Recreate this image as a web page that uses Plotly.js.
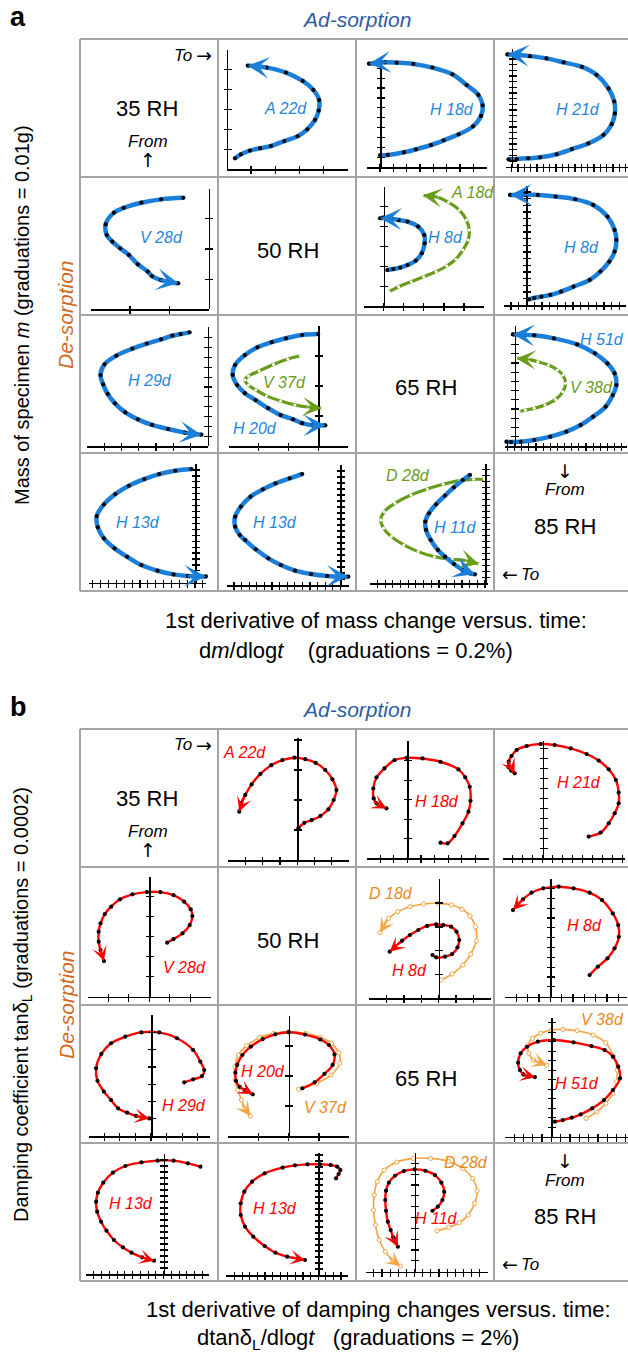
<!DOCTYPE html>
<html>
<head>
<meta charset="utf-8">
<script src="https://cdn.plot.ly/plotly-3.0.1.min.js"></script>
<style>
  html, body { margin: 0; padding: 0; background: #fff; }
  #chart { width: 628px; height: 1356px; }
</style>
</head>
<body>
<div id="chart"></div>
<script>
// ---------------- DATA (values in axis graduations) ----------------
// Panel a : mass (y) versus dm/dlogt (x)
const aA22_x = [0.34,0.58,0.96,1.38,1.83,2.38,2.93,3.33,3.65,3.80,3.82,3.58,3.14,2.45,1.65,0.87];
const aA22_y = [0.55,0.75,0.94,1.06,1.17,1.42,1.66,2.01,2.48,2.95,3.48,3.99,4.44,4.86,5.11,5.21];
const aH18_x = [0,0.58,1.8,2.7,3.83,4.78,5.9,6.98,7.58,7.7,7.38,6.5,5.43,3.93,2.5,1.25,0.38,-0.5,-0.83];
const aH18_y = [1.18,1.22,1.49,1.79,2.23,2.70,3.31,4.12,5.17,6.25,7.30,8.31,9.39,10.07,10.44,10.57,10.61,10.5,10.47];
const aH21_x = [-0.5,0.8,2.6,4.5,7.1,9.5,12.1,14.5,15.8,16.3,16.2,15.3,13.4,11.1,8.2,5.5,2.9,0.8,-0.7];
const aH21_y = [1.3,1.35,1.47,1.65,2.2,3.1,4.1,5.6,7.5,9.4,11.5,13.8,16.2,17.6,18.4,19.1,19.5,19.7,19.8];
const aV28_x = [-0.64,-1.21,-1.71,-2.16,-2.41,-2.62,-2.59,-2.45,-2.25,-2.03,-1.80,-1.55,-1.44,-1.21,-0.95,-0.77];
const aV28_y = [3.69,3.64,3.53,3.36,3.20,2.81,2.46,2.24,2.02,1.80,1.49,1.25,1.10,0.97,0.89,0.86];
const aH8a_x = [0.18,0.48,0.83,1.19,1.60,1.90,2.04,2.02,1.72,1.19,0.75,0.39,0.0,-0.18];
const aH8a_y = [1.81,1.86,1.93,2.06,2.28,2.65,3.15,3.57,3.99,4.24,4.32,4.39,4.44,4.41];
const aA18_x = [0.27,0.75,1.37,1.99,2.61,3.14,3.59,3.94,4.21,4.26,4.12,3.77,3.23,2.70,1.95];
const aA18_y = [0.72,0.97,1.22,1.47,1.73,2.01,2.35,2.81,3.32,3.82,4.32,4.82,5.21,5.46,5.56];
const aH8b_x = [0.32,1.01,1.94,3.09,4.47,6.08,8.16,9.54,10.69,11.38,11.61,11.38,10.46,8.62,6.31,3.78,1.47,-0.14,-2.12];
const aH8b_y = [0.9,1.1,1.3,1.55,2.05,2.8,3.8,5.05,6.55,8.05,9.8,11.3,13.3,15.05,15.9,16.3,16.55,16.55,16.55];
const aH29_x = [-1.04,-1.56,-2.04,-2.70,-3.53,-4.37,-5.30,-5.99,-6.22,-6.07,-5.80,-5.38,-4.78,-4.05,-3.22,-2.29,-1.31,-0.83,-0.35];
const aH29_y = [11.56,11.39,11.22,10.85,10.41,9.90,9.19,8.31,7.22,6.27,5.29,4.34,3.42,2.71,2.14,1.73,1.36,1.22,1.15];
const aH20_x = [0,-0.54,-1.08,-1.56,-2.04,-2.46,-2.79,-2.87,-2.72,-2.46,-2.10,-1.68,-1.26,-0.84,-0.54,-0.18,0.24];
const aH20_y = [3.73,3.70,3.59,3.46,3.29,3.03,2.70,2.37,2.03,1.76,1.53,1.26,1.03,0.89,0.76,0.69,0.69];
const aV37_x = [-0.60,-1.02,-1.50,-1.98,-2.34,-2.46,-2.34,-2.10,-1.74,-1.26,-0.78,-0.36,0.12];
const aV37_y = [3.01,2.90,2.72,2.50,2.33,2.20,2.03,1.87,1.67,1.50,1.37,1.30,1.26];
const aH51_x = [-1.15,-0.5,0.85,2.75,5.0,7.25,9.25,11.0,12.75,13.75,14.25,14.0,13.0,11.25,8.75,5.5,2.75,0.5,-0.25];
const aH51_y = [0.47,0.43,0.47,0.65,1.01,1.55,2.27,3.18,4.26,5.52,6.61,7.87,8.95,10.04,11.01,11.66,11.99,12.09,12.09];
const aV38_x = [0.65,1.5,2.75,4.25,5.75,6.75,7.15,6.75,6.0,4.75,3.25,2.0,0.75,0.25];
const aV38_y = [3.72,3.90,4.08,4.44,5.05,5.88,6.79,7.69,8.23,8.77,9.13,9.39,9.49,9.49];
const aH13a_x = [-0.45,-2.5,-4.55,-6.45,-8.41,-10.14,-11.59,-12.5,-12.36,-11.59,-10.23,-8.64,-6.82,-4.77,-2.73,-0.91,0.45,1.4];
const aH13a_y = [19.16,18.88,18.31,17.47,16.35,14.94,13.20,11.24,9.33,7.47,5.79,4.38,2.98,2.02,1.40,1.12,1.01,1.05];
const aH13b_x = [-5.02,-6.67,-8.54,-10.19,-11.83,-13.1,-13.85,-13.85,-13.24,-12.54,-11.13,-9.48,-7.84,-5.96,-3.85,-1.74,0.14,1.05];
const aH13b_y = [18.5,17.78,16.94,15.94,14.72,13.06,11.39,9.72,8.33,7.5,5.94,4.44,3.33,2.39,1.83,1.5,1.39,1.39];
const aH11_x = [-1.95,-2.88,-4.05,-5.21,-6.37,-7.3,-7.77,-7.67,-7.07,-6.14,-5.21,-4.05,-2.88,-1.95,-1.3];
const aH11_y = [18.06,17.22,16.0,14.61,13.17,11.67,10.28,8.89,7.22,5.56,4.44,3.22,2.22,1.67,1.5];
const aD28_x = [-0.09,-1.49,-3.35,-5.44,-7.53,-9.63,-11.72,-13.12,-13.58,-13.21,-12.19,-10.56,-8.70,-6.60,-4.28,-2.42,-0.79];
const aD28_y = [17.33,17.33,17.11,16.5,15.72,14.72,13.33,11.94,10.56,9.17,7.78,6.39,5.28,4.44,4.0,3.78,3.22];

// Panel b : tan delta (y) versus dtan delta/dlogt (x)
const bA22_x = [0.07,0.42,0.84,1.35,1.81,2.12,2.28,2.05,1.63,1.07,0.47,-0.16,-0.86,-1.51,-2.14,-2.65,-3.02,-3.26,-3.37];
const bA22_y = [1.06,1.24,1.33,1.47,1.69,2.0,2.33,2.69,3.0,3.24,3.36,3.41,3.33,3.16,2.87,2.52,2.17,1.89,1.61];
const bH18_x = [2.44,2.97,3.47,4.06,4.5,4.65,4.59,4.26,3.76,2.44,1.12,-0.06,-0.94,-1.68,-2.26,-2.5,-2.47,-2.26,-1.53];
const bH18_y = [0.80,0.77,1.14,1.79,2.39,2.95,3.67,4.15,4.56,4.95,5.12,5.15,5.03,4.61,4.15,3.58,3.07,2.82,2.56];
const bH21_x = [4.6,5.8,6.6,7.2,7.6,7.6,7.32,6.6,5.6,4.4,2.8,1.2,-0.2,-1.6,-2.6,-3.12,-3.4,-3.4,-3.16,-2.8];
const bH21_y = [2.17,2.57,3.5,4.5,5.5,6.57,7.83,8.9,9.77,10.43,11.0,11.33,11.43,11.23,10.83,10.23,9.67,9.1,8.77,8.5];
const bV28_x = [0.87,1.18,1.62,1.97,2.1,2.02,1.70,1.18,0.54,-0.12,-0.82,-1.43,-1.86,-2.17,-2.38,-2.47,-2.47,-2.38,-2.21];
const bV28_y = [2.7,2.88,3.17,3.58,4.03,4.37,4.75,5.08,5.23,5.23,5.12,4.87,4.5,4.13,3.67,3.25,2.75,2.33,1.78];
const bH8a_x = [-0.35,-0.14,0.37,0.78,1.09,1.19,1.03,0.72,0.27,-0.14,-0.66,-1.17,-1.65,-2.1,-2.51,-2.82];
const bH8a_y = [1.82,1.72,1.75,1.86,2.14,2.45,2.80,3.01,3.08,3.11,3.04,2.87,2.66,2.42,2.17,1.96];
const bD18_x = [0.16,0.78,1.4,1.85,2.18,2.12,1.81,1.36,0.74,-0.04,-0.86,-1.65,-2.35,-2.88,-3.21,-3.37];
const bD18_y = [0.77,1.02,1.40,1.86,2.42,3.01,3.46,3.74,3.92,3.99,3.96,3.85,3.64,3.36,3.05,2.76];
const bH8b_x = [3.47,4.20,5.05,5.68,6.06,6.0,5.52,4.57,3.47,2.05,0.73,-0.63,-1.67,-2.43,-3.31];
const bH8b_y = [2.20,3.05,3.90,4.92,6.10,7.29,8.47,9.83,10.58,11.02,11.19,11.02,10.58,9.90,8.81];
const bH29_x = [2.13,2.70,3.27,3.41,3.16,2.70,1.67,0.53,-0.62,-1.65,-2.56,-3.18,-3.52,-3.43,-3.02,-2.56,-2.11,-1.53,-0.96,-0.50,-0.11];
const bH29_y = [3.11,3.28,3.47,3.82,4.31,4.98,5.66,6.0,6.0,5.75,5.37,4.75,3.92,3.20,2.57,2.08,1.60,1.35,1.16,1.08,1.02];
const bH20_x = [0.45,0.86,1.18,1.45,1.51,1.33,1.04,0.54,0.0,-0.44,-0.85,-1.24,-1.52,-1.69,-1.75,-1.73,-1.61,-1.44,-1.18];
const bH20_y = [1.59,1.79,2.07,2.37,2.72,3.03,3.22,3.38,3.46,3.39,3.23,2.98,2.70,2.37,2.11,1.84,1.64,1.53,1.39];
const bV37_x = [0.33,0.92,1.39,1.68,1.65,1.41,1.04,0.56,0.0,-0.49,-0.96,-1.38,-1.65,-1.76,-1.76,-1.67,-1.55,-1.44,-1.26];
const bV37_y = [1.56,1.76,2.03,2.42,2.78,3.09,3.29,3.42,3.47,3.42,3.28,3.01,2.7,2.31,1.87,1.53,1.20,0.92,0.67];
const bH51_x = [0.38,1.23,2.19,3.15,4.38,5.65,6.62,7.38,7.19,6.62,5.73,4.31,2.38,0.27,-1.46,-2.62,-3.31,-3.58,-3.38,-3.0,-2.42,-1.77];
const bH51_y = [1.58,1.75,2.0,2.35,2.98,3.86,4.91,6.14,7.37,8.42,9.12,9.54,9.93,10.18,10.0,9.47,8.77,7.79,7.02,6.56,6.32,6.28];
const bV38_x = [3.73,4.88,5.85,6.62,7.0,7.08,6.69,5.85,4.5,2.77,1.23,0.0,-1.15,-2.04,-2.54,-2.42,-1.92,-1.15,-0.5];
const bV38_y = [1.93,2.63,3.51,4.56,5.79,7.02,8.42,9.89,10.7,11.16,11.3,11.23,10.88,10.35,9.65,8.77,8.07,7.72,7.54];
const bH13a_x = [4.75,3.13,1.29,-0.78,-2.86,-4.93,-6.54,-7.79,-8.48,-8.71,-8.57,-8.06,-7.37,-6.41,-5.25,-4.15,-2.76,-1.24];
const bH13a_y = [17.89,18.44,18.89,18.89,18.61,18.0,16.89,15.22,13.56,12.06,10.39,8.72,7.22,5.67,4.44,3.56,2.78,2.22];
const bH13b_x = [2.35,2.68,2.91,2.49,1.64,0.23,-1.41,-3.05,-4.69,-7.04,-8.69,-9.72,-10.19,-10.19,-9.62,-8.54,-7.04,-5.63,-4.08,-2.58,-1.74];
const bH13b_y = [16.11,16.83,17.5,18.06,18.33,18.44,18.44,18.28,17.89,16.94,15.56,13.89,11.94,10.0,8.06,6.39,4.83,3.72,3.06,2.72,2.5];
const bH11_x = [2.19,2.85,3.42,3.64,3.29,2.5,1.32,0.0,-1.32,-2.41,-3.16,-3.51,-3.6,-3.51,-3.29,-2.94,-2.63,-2.32,-2.06];
const bH11_y = [5.63,6.0,6.62,7.38,8.22,8.92,9.32,9.45,9.29,8.86,8.22,7.48,6.62,5.63,4.62,3.85,3.17,2.68,2.31];
const bD28_x = [2.76,4.17,5.48,6.58,7.37,7.68,7.11,5.92,4.17,1.97,-0.13,-2.19,-3.73,-4.61,-4.96,-5.04,-4.82,-4.34,-3.6,-2.72,-1.75];
const bD28_y = [3.78,4.09,4.52,5.23,6.31,7.45,8.62,9.54,10.18,10.46,10.46,10.12,9.38,8.31,7.08,5.69,4.31,2.92,1.85,1.08,0.52];

// Text content
const rhLabels = ['35 RH', '50 RH', '65 RH', '85 RH'];
const panelLetters = ['a', 'b'];
const adTitle = 'Ad-sorption';
const deTitle = 'De-sorption';
const yTitles = ['Mass of specimen <i>m</i> (graduations = 0.01g)',
                 'Damping coefficient tan\u03b4<sub>L</sub> (graduations = 0.0002)'];
const xTitles1 = ['1st derivative of mass change versus. time:',
                  '1st derivative of damping changes versus. time:'];
const xTitles2 = ['d<i>m</i>/dlog<i>t</i>    (graduations = 0.2%)',
                  'dtan\u03b4<sub>L</sub>/dlog<i>t</i>   (graduations = 2%)'];

// ---------------- STYLE / LAYOUT ----------------
const W = 628, H = 1356;
const FONT = 'Liberation Sans, Arial, sans-serif';
const SYM = 'DejaVu Sans, sans-serif';
const COL = {blue:'#1b7fd9', green:'#6a9c1c', red:'#ff0000', orange:'#f5a443'};
const LBL = {blue:'#1f86dc', green:'#6a9c1c', red:'#ff0000', orange:'#e8891c'};
const ST = {
  blue:   {line:{color:COL.blue, width:4.5, shape:'spline'}, marker:{color:'#000', size:4.2}, aw:2.2, as:1.65, ah:3, len:20},
  green:  {line:{color:COL.green, width:3.2, shape:'spline'}, marker:{color:'#fff', size:3.0, line:{width:0}}, aw:1.8, as:1.8, ah:3, len:20},
  red:    {line:{color:COL.red, width:2.4, shape:'spline'}, marker:{color:'#000', size:4.2}, aw:1.6, as:1.55, ah:3, len:16},
  orange: {line:{color:COL.orange, width:1.6, shape:'spline'}, marker:{color:'#fff', size:4.2, line:{color:COL.orange, width:1}}, aw:1.3, as:1.9, ah:3, len:16}
};

// cell geometry: y-axis pixel x, px per x-graduation, x range, baseline pixel y, px per y-graduation, y max
const cells = [
  // panel a
  {yax:226.7, sx:24.2, xr:[0,5], base:169.3, sy:19.9, ym:6, s:[[aA22_x,aA22_y,'blue']], l:[['A 22d',285,108,'blue']]},
  {yax:380, sx:13.33, xr:[-1,8], base:167, sy:9.87, ym:11, s:[[aH18_x,aH18_y,'blue']], l:[['H 18d',452,110,'blue']]},
  {yax:511.7, sx:6.33, xr:[-0.95,18.3], base:166.7, sy:5.67, ym:20.7, s:[[aH21_x,aH21_y,'blue']], l:[['H 21d',578,109,'blue']]},
  {yax:208.6, sx:39.3, xr:[-3,0], base:309.3, sy:30.2, ym:4, s:[[aV28_x,aV28_y,'blue']], l:[['V 28d',161,238,'blue']]},
  {yax:383.6, sx:20.1, xr:[-1,5], base:306, sy:19.9, ym:6, s:[[aA18_x,aA18_y,'green'],[aH8a_x,aH8a_y,'blue']], l:[['H 8d',445,238,'blue'],['A 18d',472,193,'green']]},
  {yax:526.4, sx:7.75, xr:[-2.9,12.9], base:305.3, sy:6.67, ym:17.9, s:[[aH8b_x,aH8b_y,'blue']], l:[['H 8d',581,247,'blue']]},
  {yax:207.5, sx:17.2, xr:[-7,0], base:446, sy:9.83, ym:12.1, s:[[aH29_x,aH29_y,'blue']], l:[['H 29d',150,380,'blue']]},
  {yax:318.2, sx:29.8, xr:[-3,1], base:446, sy:30, ym:4, s:[[aV37_x,aV37_y,'green'],[aH20_x,aH20_y,'blue']], l:[['V 37d',284,382,'green'],['H 20d',255,428,'blue']]},
  {yax:514.6, sx:7.14, xr:[-1.35,15.8], base:446, sy:9.23, ym:13, s:[[aV38_x,aV38_y,'green'],[aH51_x,aH51_y,'blue']], l:[['H 51d',602,339,'blue'],['V 38d',591,387,'green']]},
  {yax:195, sx:7.86, xr:[-13.5,1.45], base:582.7, sy:5.93, ym:20, s:[[aH13a_x,aH13a_y,'blue']], l:[['H 13d',138,522,'blue']]},
  {yax:340.4, sx:7.6, xr:[-14.9,1.08], base:585, sy:6, ym:20, s:[[aH13b_x,aH13b_y,'blue']], l:[['H 13d',275,522,'blue']]},
  {yax:485, sx:7.68, xr:[-15,0.38], base:583.3, sy:6, ym:19.9, s:[[aD28_x,aD28_y,'green'],[aH11_x,aH11_y,'blue']], l:[['D 28d',408,475,'green'],['H 11d',456,527,'blue']]},
  // panel b
  {yax:297.2, sx:17.2, xr:[-4,3], base:860, sy:30, ym:4.06, s:[[bA22_x,bA22_y,'red']], l:[['A 22d',244,752,'red']]},
  {yax:407.3, sx:13.6, xr:[-3,6], base:858.3, sy:19.5, ym:6, s:[[bH18_x,bH18_y,'red']], l:[['H 18d',437,802,'red']]},
  {yax:542.7, sx:10, xr:[-4,8.2], base:858.3, sy:10, ym:11.7, s:[[bH21_x,bH21_y,'red']], l:[['H 21d',579,782,'red']]},
  {yax:149.3, sx:20.5, xr:[-3,3], base:996.7, sy:20, ym:6, s:[[bV28_x,bV28_y,'red']], l:[['V 28d',184,967,'red']]},
  {yax:438.6, sx:17.35, xr:[-4,3], base:998.3, sy:23.8, ym:5, s:[[bD18_x,bD18_y,'orange'],[bH8a_x,bH8a_y,'red']], l:[['D 18d',391,893,'orange'],['H 8d',409,970,'red']]},
  {yax:550.4, sx:11.3, xr:[-4,6.8], base:996.7, sy:9.83, ym:12, s:[[bH8b_x,bH8b_y,'red']], l:[['H 8d',584,925,'red']]},
  {yax:151, sx:15.6, xr:[-4,3.8], base:1136, sy:17.27, ym:7, s:[[bH29_x,bH29_y,'red']], l:[['H 29d',184,1105,'red']]},
  {yax:288.6, sx:30.4, xr:[-2,2], base:1136, sy:30, ym:4, s:[[bV37_x,bV37_y,'orange'],[bH20_x,bH20_y,'red']], l:[['H 20d',263,1071,'red'],['V 37d',325,1107,'orange']]},
  {yax:551.4, sx:9.3, xr:[-5,8.2], base:1136.7, sy:9.5, ym:12.5, s:[[bV38_x,bV38_y,'orange'],[bH51_x,bH51_y,'red']], l:[['V 38d',602,1020,'orange'],['H 51d',577,1083,'red']]},
  {yax:163.6, sx:7.75, xr:[-10,5.9], base:1274, sy:6, ym:20, s:[[bH13a_x,bH13a_y,'red']], l:[['H 13d',131,1203,'red']]},
  {yax:318.2, sx:7.6, xr:[-12.1,3.9], base:1275, sy:6, ym:20.4, s:[[bH13b_x,bH13b_y,'red']], l:[['H 13d',275,1208,'red']]},
  {yax:414.6, sx:8.14, xr:[-6,9], base:1271.7, sy:10.83, ym:11, s:[[bD28_x,bD28_y,'orange'],[bH11_x,bH11_y,'red']], l:[['D 28d',466,1162,'orange'],['H 11d',436,1218,'red']]}
];

const P = px => px / W;
const Q = py => 1 - py / H;
const clamp = v => Math.max(0, Math.min(1, v));

const traces = [];
const annotations = [];
const shapes = [];
const layout = {
  width: W, height: H,
  margin: {l:0, r:0, t:0, b:0},
  paper_bgcolor: '#fff', plot_bgcolor: 'rgba(0,0,0,0)',
  showlegend: false,
  font: {family: FONT, color: '#000'}
};

const tickCommon = {
  showticklabels: false, showgrid: false, zeroline: false, fixedrange: true,
  showline: true, linecolor: '#000', linewidth: 1.6,
  ticks: 'inside', ticklen: 3.2, tickwidth: 1.2, tickcolor: '#000',
  tick0: 0, dtick: 1,
  minor: {ticks: 'outside', ticklen: 3.2, tickwidth: 1.2, tickcolor: '#000', tick0: 0, dtick: 1, showgrid: false}
};

cells.forEach((c, i) => {
  const k = i + 1;
  const sfx = k === 1 ? '' : String(k);
  const xr = 'x' + sfx, yr = 'y' + sfx;
  const xl = c.yax + c.xr[0] * c.sx, xrp = c.yax + c.xr[1] * c.sx;
  const top = c.base - c.ym * c.sy;
  layout['xaxis' + sfx] = Object.assign({}, tickCommon, {
    domain: [clamp(P(xl)), clamp(P(xrp))], range: c.xr, anchor: yr
  });
  layout['yaxis' + sfx] = Object.assign({}, tickCommon, {
    domain: [clamp(Q(c.base)), clamp(Q(top))], range: [0, c.ym],
    anchor: 'free', position: clamp(P(c.yax)), side: 'left'
  });
  c.s.forEach(([xs, ys, kind]) => {
    const st = ST[kind];
    traces.push({
      type: 'scatter', mode: 'lines+markers', x: xs, y: ys, xaxis: xr, yaxis: yr,
      line: st.line, marker: st.marker, hoverinfo: 'skip', cliponaxis: false
    });
    // arrow direction from the last data points (pixel space)
    const n = xs.length;
    let j = n - 2, dx = 0, dy = 0;
    while (j >= 0) {
      dx = (xs[n-1] - xs[j]) * c.sx;
      dy = -(ys[n-1] - ys[j]) * c.sy;
      if (Math.hypot(dx, dy) >= 9) break;
      j--;
    }
    const d = Math.hypot(dx, dy) || 1;
    annotations.push({
      x: xs[n-1], y: ys[n-1], xref: xr, yref: yr,
      ax: -dx / d * st.len, ay: -dy / d * st.len,
      text: '', showarrow: true, arrowhead: st.ah, arrowsize: st.as, arrowwidth: st.aw,
      arrowcolor: COL[kind], standoff: 0
    });
  });
  c.l.forEach(([t, px, py, kind]) => {
    annotations.push({
      text: '<i>' + t + '</i>', xref: 'paper', yref: 'paper', x: P(px), y: Q(py),
      xanchor: 'center', yanchor: 'middle', showarrow: false,
      font: {family: FONT, size: 16, color: LBL[kind]}
    });
  });
});

// table grid lines
const GRID = '#a3a3a3';
function gridLines(top) {
  const left = 80, cw = 138, ch = 138;
  const bottom = top + 4 * ch;
  const L = (x0, y0, x1, y1) => shapes.push({type:'line', xref:'paper', yref:'paper',
    x0:P(x0), y0:Q(y0), x1:P(x1), y1:Q(y1), line:{color:GRID, width:2}});
  for (let r = 0; r <= 4; r++) L(left, top + r * ch, W, top + r * ch);
  for (let c = 0; c <= 3; c++) L(left + c * cw, top, left + c * cw, bottom);
}
gridLines(39);
gridLines(729);

function txt(t, px, py, size, opts) {
  annotations.push(Object.assign({
    text: t, xref: 'paper', yref: 'paper', x: P(px), y: Q(py),
    xanchor: 'center', yanchor: 'middle', showarrow: false,
    font: {family: FONT, size: size, color: '#000'}
  }, opts || {}));
}
const symFont = {family: SYM, size: 19, color: '#000'};

[0, 690].forEach((off, p) => {
  txt('<b>' + panelLetters[p] + '</b>', 18, 17 + off, 27);
  txt('<i>' + adTitle + '</i>', 356, 19 + off, 21, {font:{family:FONT, size:21, color:'#2f5ba3'}});
  txt('<i>' + deTitle + '</i>', 66, 315 + off, 21, {textangle:-90, font:{family:FONT, size:21, color:'#d2691e'}});
  txt(yTitles[p], 22, 315 + off, 20, {textangle:-90});
  // diagonal cells
  txt(rhLabels[0], 147, 108 + off, 22);
  txt(rhLabels[1], 288, 250 + off, 22);
  txt(rhLabels[2], 426, 388 + off, 22);
  txt(rhLabels[3], 565, 526 + off, 22);
  txt('<i>To</i>', 194, 55 + off, 17, {xanchor:'right'});
  txt('\u2192', 204, 55 + off, 19, {font: symFont});
  txt('<i>From</i>', 148, 141 + off, 17);
  txt('\u2191', 148, 160 + off, 19, {font: symFont});
  txt('\u2193', 565, 471 + off, 19, {font: symFont});
  txt('<i>From</i>', 565, 490 + off, 17);
  txt('\u2190', 510, 574 + off, 19, {font: symFont});
  txt('<i>To</i>', 519, 574 + off, 17, {xanchor:'left'});
});
txt(xTitles1[0], 376, 620, 22);
txt(xTitles2[0], 356, 650, 22);
txt(xTitles1[1], 378, 1309, 22);
txt(xTitles2[1], 358, 1339, 22);

layout.annotations = annotations;
layout.shapes = shapes;

Plotly.newPlot('chart', traces, layout, {staticPlot: true, displayModeBar: false});
</script>
</body>
</html>
